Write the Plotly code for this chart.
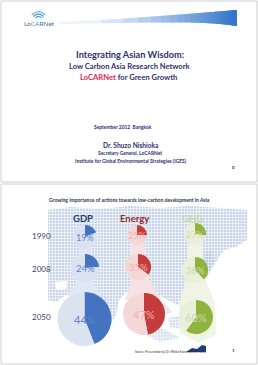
import numpy as np
import plotly.graph_objects as go

W, H = 258, 365

# ---------------- data ----------------
years = ["1990", "2008", "2050"]
indicators = ["GDP", "Energy", "GHG"]
gdp_share = [19, 24, 44]
energy_share = [25, 35, 47]
ghg_share = [27, 38, 60]
shares = [gdp_share, energy_share, ghg_share]

title_lines = ["Integrating Asian Wisdom:", "Low Carbon Asia Research Network"]
source_text = "Source: Presentation by Dr. Mikiko Kainuma(NIES) 2012"

# ---------------- styles / layout ----------------
FONT = "Lato"
NAVY = "#2f2f72"
wedge_colors = ["#4473c2", "#c43c3c", "#8fb43e"]
rest_colors = ["#dbe3f1", "#f4d8d8", "#e9efd9"]
label_colors = ["#5f82c9", "#f2b0b0", "#d3d8b4"]
head_colors = ["#1f3b70", "#8e2b2b", "#c8d9a0"]
label_sizes = [9, 9.5, 11]
# pie centres / radii in page pixels  [indicator][year]
geo = [
    [(85, 237, 12), (85, 268, 14), (84.5, 319, 27)],
    [(137, 235, 10), (138, 267, 13), (144, 314, 21)],
    [(195, 234, 11), (195, 270, 13), (196, 317, 17)],
]
year_y = [236, 269, 317]

fig = go.Figure()
fig.add_trace(go.Scatter(x=[None], y=[None], showlegend=False, hoverinfo="skip"))

shapes = []
annots = []


def path_from(pts, close=True):
    s = "M " + " L ".join(f"{x:.2f},{y:.2f}" for x, y in pts)
    return s + (" Z" if close else "")


# slide frames
shapes.append(dict(type="rect", x0=1, y0=1, x1=257, y1=182, line=dict(color="#cfcfcf", width=1), fillcolor="white", layer="below"))
shapes.append(dict(type="rect", x0=1, y0=184, x1=257, y1=364, line=dict(color="#cfcfcf", width=1), fillcolor="white", layer="below"))


# swoosh header: stacked translucent layers give a seamless gradient
def swoosh_poly(ts):
    top = [(60 + 177 * t, 22 - 12 * t ** 1.2) for t in ts]
    bot = [(60 + 177 * t, 24 - 3 * t + 5 * t ** 6) for t in ts[::-1]]
    return top + bot


shapes.append(dict(type="path", path=path_from(swoosh_poly(np.linspace(0, 1, 40))),
                   fillcolor="rgb(234,242,250)", line=dict(width=0), layer="below"))
for m in range(1, 31):
    tm = (1 - 0.9 ** m) ** (1 / 1.6)
    shapes.append(dict(type="path", path=path_from(swoosh_poly(np.linspace(tm, 1, 30))),
                       fillcolor="rgba(52,122,206,0.1)", line=dict(width=0), layer="below"))

# logo arcs
for r, col in zip([4.0, 6.3, 8.6], ["#4aa3d8", "#3d8fcf", "#6ab6e2"]):
    ang = np.linspace(np.radians(38), np.radians(142), 24)
    pts = [(38.5 + r * np.cos(a), 20.5 - r * np.sin(a)) for a in ang]
    shapes.append(dict(type="path", path=path_from(pts, close=False), line=dict(color=col, width=1.2), layer="below"))

# map of Asia (decorative background)
map_pts = [(48, 210), (70, 207), (100, 209), (130, 206), (160, 208), (190, 206), (220, 208), (247, 210),
           (247, 240), (236, 247), (224, 250), (216, 262), (207, 276), (200, 290), (191, 300), (178, 305),
           (168, 300), (160, 296), (150, 301), (140, 297), (126, 292), (119, 300), (116, 315), (111, 323),
           (104, 318), (97, 300), (82, 292), (66, 295), (56, 302), (48, 300)]
shapes.append(dict(type="path", path=path_from(map_pts), fillcolor="rgba(165,186,218,0.6)", line=dict(width=0), layer="below"))
for isl in [[(150, 305), (165, 303), (172, 312), (160, 318), (150, 313)],
            [(168, 318), (186, 314), (196, 322), (184, 330), (170, 327)],
            [(150, 326), (166, 330), (180, 338), (160, 342), (146, 335)],
            [(205, 252), (212, 250), (214, 262), (206, 280), (200, 276)]]:
    shapes.append(dict(type="path", path=path_from(isl), fillcolor="rgba(165,186,218,0.45)", line=dict(width=0), layer="below"))
# white gaps in map
shapes.append(dict(type="path", path=path_from([(55, 282), (67, 281), (66, 289), (56, 290)]), fillcolor="white", line=dict(width=0), layer="below"))
# grid texture of the map (single path)
segs = []
for gx in np.arange(49.5, 248, 3):
    segs.append(f"M {gx:.1f},205 L {gx:.1f},345")
for gy in np.arange(205.5, 345, 3):
    segs.append(f"M 47,{gy:.1f} L 248,{gy:.1f}")
shapes.append(dict(type="path", path=" ".join(segs), line=dict(color="rgba(255,255,255,0.55)", width=1), layer="below"))

# column funnels behind pies
funnels = [
    ([(80, 240), (90, 240), (93, 283), (102, 296), (67, 296), (77, 283)], "rgba(225,233,246,0.9)"),
    ([(131, 238), (143, 238), (149, 280), (162, 300), (125, 300), (131, 280)], "rgba(247,226,226,0.92)"),
    ([(189, 236), (201, 236), (206, 280), (215, 303), (216, 335), (198, 343), (180, 333), (179, 303), (186, 280)], "rgba(239,244,228,0.97)"),
]
for pts, col in funnels:
    shapes.append(dict(type="path", path=path_from(pts), fillcolor=col, line=dict(width=0), layer="below"))

# small logo near source
shapes.append(dict(type="path", path=path_from([(186, 352), (192, 348), (197, 349), (202, 345), (206, 346), (206, 352)]),
                   fillcolor="#1d3f7a", line=dict(width=0), layer="below"))

# ---------------- pies ----------------
for i, ind in enumerate(indicators):
    for j, yr in enumerate(years):
        cx, cy, r = geo[i][j]
        v = shares[i][j]
        fig.add_trace(go.Pie(
            values=[v, 100 - v], labels=[f"{ind} {yr} Asia", f"{ind} {yr} rest"],
            domain=dict(x=[(cx - r) / W, (cx + r) / W], y=[1 - (cy + r) / H, 1 - (cy - r) / H]),
            sort=False, direction="clockwise", rotation=0, textinfo="none", hoverinfo="label+value",
            marker=dict(colors=[wedge_colors[i], rest_colors[i]], line=dict(width=0)), showlegend=False,
        ))
        annots.append(dict(x=cx, y=cy + 0.5, text=f"{v}%", showarrow=False, xref="x", yref="y",
                           font=dict(family=FONT, size=label_sizes[j], color=label_colors[i])))
    annots.append(dict(x=[82.5, 134, 192.5][i], y=218, text=f"<b>{ind}</b>", showarrow=False, xref="x", yref="y",
                       font=dict(family=FONT, size=9.5, color=head_colors[i])))

for j, yr in enumerate(years):
    annots.append(dict(x=41.5, y=year_y[j], text=yr, showarrow=False, xref="x", yref="y",
                       font=dict(family=FONT, size=8, color="#3a4566")))


def txt(x, y, s, size, color=NAVY, bold=True, anchor="center"):
    annots.append(dict(x=x, y=y, text=(f"<b>{s}</b>" if bold else s), showarrow=False, xref="x", yref="y",
                       xanchor=anchor, font=dict(family=FONT, size=size, color=color)))


txt(129.5, 54, title_lines[0], 9.2)
txt(129.5, 66, title_lines[1], 7.6)
annots.append(dict(x=128, y=77, text="<b><span style='color:#e0245a'>LoCARNet</span> for Green Growth</b>",
                   showarrow=False, xref="x", yref="y", font=dict(family=FONT, size=7.6, color=NAVY)))
txt(122.5, 127, "September 2012  Bangkok", 4.9)
txt(130, 145, "Dr. Shuzo Nishioka", 6.6)
txt(130, 153, "Secretary General, LoCARNet", 4.9)
txt(130.5, 161, "Institute for Global Environmental Strategies (IGES)", 4.9)
txt(233, 167, "0", 4.5, color="#333333")
annots.append(dict(x=39, y=23.5, text="Lo<span style='color:#3d8fcf'>CA</span>RNet", showarrow=False, xref="x", yref="y",
                   font=dict(family=FONT, size=6.5, color="#4a6a9a")))

txt(129.5, 200, "Growing importance of actions towards low-carbon development in Asia", 5.0, color="#2a3350")
txt(170, 351, source_text, 2.9, color="#333333", bold=False)
txt(233, 350, "1", 4.5, color="#333333")

fig.update_layout(
    width=W, height=H, margin=dict(l=0, r=0, t=0, b=0),
    paper_bgcolor="white", plot_bgcolor="white",
    xaxis=dict(range=[0, W], visible=False, fixedrange=True),
    yaxis=dict(range=[H, 0], visible=False, fixedrange=True),
    shapes=shapes, annotations=annots, showlegend=False,
)
fig.write_html("out.html")
